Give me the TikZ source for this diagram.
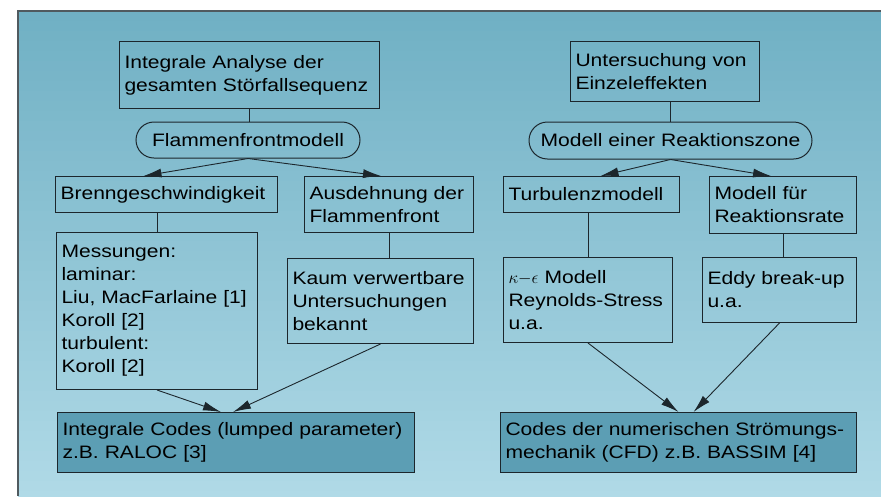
\documentclass[tikz,border=0pt]{standalone}
\usepackage{fontspec}
\setmainfont[FakeStretch=1.17]{Liberation Sans}
\usepackage{xcolor}
\usetikzlibrary{calc, shapes.misc, arrows.meta, positioning}

\definecolor{tafelOben}{RGB}{112,176,196}
\definecolor{tafelUnten}{RGB}{176,218,231}
\definecolor{codeFarbe}{RGB}{92,158,180}
\definecolor{strich}{RGB}{28,38,44}
\definecolor{rahmen}{RGB}{80,90,95}

\tikzset{
  kasten/.style={draw=strich, line width=1pt, anchor=north west, align=left,
    inner xsep=5pt, inner ysep=0pt, font=\fontsize{18}{23}\selectfont},
  modell/.style={draw=strich, line width=1pt, rounded rectangle, inner sep=0pt,
    font=\fontsize{18}{23}\selectfont},
  code/.style={kasten, fill=codeFarbe},
  verbinder/.style={draw=strich, line width=0.9pt},
  pfeil/.style={draw=strich, line width=0.9pt, -{Latex[length=18pt,width=9pt]}}
}

\begin{document}
\begin{tikzpicture}[x=1pt, y=-1pt]
    % =================================================================
    % 1. HINTERGRUND (Verlauf in Streifen)
    % =================================================================
    \useasboundingbox (0,0) rectangle (881,496);
    \fill[white] (0,0) rectangle (881,496);
    \foreach \i in {0,...,48} {
        \pgfmathsetmacro\anteil{100*\i/48}
        \fill[tafelUnten!\anteil!tafelOben] (18,11+10*\i) rectangle (881,22+10*\i);
    }
    \draw[line width=1.2pt, rahmen] (18,496) -- (18,11) -- (881,11);

    % =================================================================
    % 2. LINKER ZWEIG (Integrale Analyse)
    % =================================================================
    \node[kasten, text width=250pt, minimum height=67pt] (analyse) at (119,41)
        {Integrale Analyse der\\gesamten Störfallsequenz};
    \node[modell, minimum width=224pt, minimum height=36pt] (flamme) at (248,140)
        {Flammenfrontmodell};
    \node[kasten, text width=212pt, minimum height=36pt] (brenn) at (55,176)
        {Brenngeschwindigkeit};
    \node[kasten, text width=159pt, minimum height=56pt] (ausdehnung) at (304,176)
        {Ausdehnung der\\Flammenfront};
    \node[kasten, text width=191pt, minimum height=157pt] (messung) at (56,232)
        {Messungen:\\laminar:\\Liu, MacFarlaine [1]\\Koroll [2]\\turbulent:\\Koroll [2]};
    \node[kasten, text width=176pt, minimum height=85pt] (kaum) at (287,258)
        {Kaum verwertbare\\Untersuchungen\\bekannt};
    \node[code, text width=347pt, minimum height=60pt] (intcode) at (57,412)
        {Integrale Codes (lumped parameter)\\z.B. RALOC [3]};

    % Verbindungen links
    \draw[verbinder] (analyse.south) -- (analyse.south |- flamme.north);
    \draw[pfeil] (flamme.south) -- ([xshift=-23pt]brenn.north);
    \draw[pfeil] (flamme.south) -- ([xshift=-8pt]ausdehnung.north);
    \draw[verbinder] (messung.north) -- (messung.north |- brenn.south);
    \draw[verbinder] (ausdehnung.south) -- (ausdehnung.south |- kaum.north);
    \draw[pfeil] (messung.south) -- ([xshift=-15pt]intcode.north);
    \draw[pfeil] (kaum.south) -- ([xshift=-3pt]intcode.north);

    % =================================================================
    % 3. RECHTER ZWEIG (Einzeleffekte)
    % =================================================================
    \node[kasten, text width=179pt, minimum height=60pt] (untersuchung) at (570,41)
        {Untersuchung von\\Einzeleffekten};
    \node[modell, minimum width=283pt, minimum height=37pt] (reaktion) at (670.5,140.5)
        {Modell einer Reaktionszone};
    \node[kasten, text width=166pt, minimum height=36pt] (turbulenz) at (503,176)
        {Turbulenzmodell};
    \node[kasten, text width=137pt, minimum height=57pt] (rate) at (709,176)
        {Modell für\\Reaktionsrate};
    \node[kasten, text width=159pt, minimum height=85pt] (keps) at (503,257)
        {$\kappa{-}\epsilon$ Modell\\Reynolds-Stress\\u.a.};
    \node[kasten, text width=144pt, minimum height=65pt] (eddy) at (702,257)
        {Eddy break-up\\u.a.};
    \node[code, text width=346pt, minimum height=60pt] (cfd) at (500,412)
        {Codes der numerischen Strömungs-\\mechanik (CFD) z.B. BASSIM [4]};

    % Verbindungen rechts
    \draw[verbinder] (reaktion.north) -- (reaktion.north |- untersuchung.south);
    \draw[pfeil] (reaktion.south) -- ([xshift=9pt]turbulenz.north);
    \draw[pfeil] (reaktion.south) -- ([xshift=-12pt]rate.north);
    \draw[verbinder] (keps.north) -- (keps.north |- turbulenz.south);
    \draw[verbinder] (rate.south) -- (rate.south |- eddy.north);
    \draw[pfeil] (keps.south) -- (cfd.north);
    \draw[pfeil] (eddy.south) -- ([xshift=15pt]cfd.north);
\end{tikzpicture}
\end{document}
